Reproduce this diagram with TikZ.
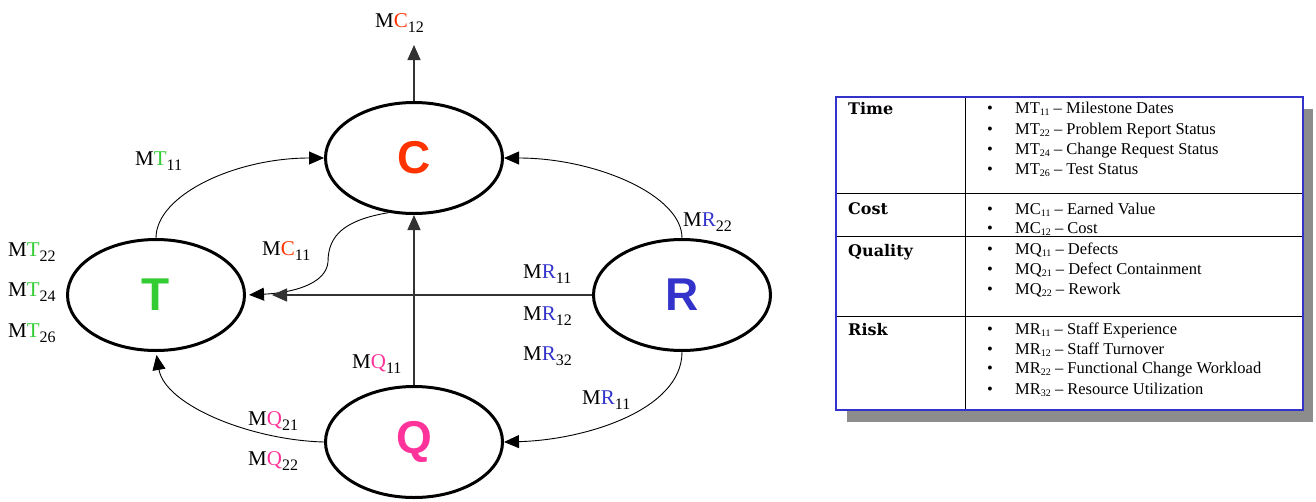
\documentclass[tikz,border=0pt]{standalone}
\usepackage{fontspec}
\setmainfont{Liberation Serif}
\newfontfamily\bigsans{Liberation Sans}
\newfontfamily\headfont{DejaVu Serif}
\usetikzlibrary{shapes.geometric,arrows.meta}
\definecolor{cC}{HTML}{FF3300}
\definecolor{cT}{HTML}{33CC33}
\definecolor{cR}{HTML}{3333CC}
\definecolor{cQ}{HTML}{FF3399}
\definecolor{tblue}{HTML}{3333CC}
\definecolor{shadowgray}{HTML}{8C8C8C}
\newcommand\mlab[3]{M\textcolor{#1}{#2}\raisebox{-5pt}{\fontsize{16}{16}\selectfont #3}}
\newcommand\tsub[1]{\raisebox{-2.5pt}{\fontsize{10}{10}\selectfont #1}}
\begin{document}
\begin{tikzpicture}[x=1pt,y=-1pt,
  bubble/.style={ellipse, draw, line width=3pt, minimum width=177pt, minimum height=111pt, inner sep=0pt, font=\bigsans\bfseries\fontsize{46}{46}\selectfont},
  lab/.style={anchor=base west, inner sep=0pt, font=\fontsize{21}{21}\selectfont},
  conn/.style={line width=0.9pt, -{Triangle[length=15pt,width=13pt]}},
  stem/.style={line width=1.4pt, draw=black!80, -{Triangle[length=15pt,width=13pt]}},
  head/.style={anchor=base west, inner sep=0pt, font=\headfont\bfseries\fontsize{16}{16}\selectfont},
  item/.style={anchor=base west, inner sep=0pt, font=\fontsize{16.5}{16.5}\selectfont},
  bul/.style={anchor=base, inner sep=0pt, font=\fontsize{16.5}{16.5}\selectfont}
]
\useasboundingbox (0,0) rectangle (1316,501);
% ellipses
\node[bubble,text=cC] (C) at (414,158) {C};
\node[bubble,text=cT] (T) at (156,295) {T};
\node[bubble,text=cR] (R) at (682,295) {R};
\node[bubble,text=cQ] (Q) at (414,442) {Q};
% connectors
\coordinate (top) at (414,45);
\draw[stem] (C.north) -- (top);
\draw[conn] (T.north) .. controls (156,195) and (235,158) .. (C.west);
\draw[conn] (R.north) .. controls (682,195) and (595,158) .. (C.east);
\draw[conn, shorten >=3pt] (C.-115) .. controls (345,220) and (328,235) .. (328,262) .. controls (326,285) and (290,293) .. (T.east);
\draw[stem] (Q.north) -- (C.south);
\draw[stem] (R.west) -- ([xshift=26pt]T.east);
\draw[conn, shorten >=3pt] (Q.west) .. controls (250,440) and (165,405) .. (T.south);
\draw[conn] (R.south) .. controls (682,410) and (585,440) .. (Q.east);
% labels
\node[lab] (lMC12) at (375,27) {\mlab{cC}{C}{12}};
\node[lab] (lMT11) at (135,165) {\mlab{cT}{T}{11}};
\node[lab] (lMT22) at (8,256) {\mlab{cT}{T}{22}};
\node[lab] (lMT24) at (8,296) {\mlab{cT}{T}{24}};
\node[lab] (lMT26) at (8,337) {\mlab{cT}{T}{26}};
\node[lab] (lMC11) at (262,255) {\mlab{cC}{C}{11}};
\node[lab] (lMQ11) at (352,368) {\mlab{cQ}{Q}{11}};
\node[lab] (lMQ21) at (248,425) {\mlab{cQ}{Q}{21}};
\node[lab] (lMQ22) at (248,465) {\mlab{cQ}{Q}{22}};
\node[lab] (lMR22) at (683,226) {\mlab{cR}{R}{22}};
\node[lab] (lMR11a) at (523,278) {\mlab{cR}{R}{11}};
\node[lab] (lMR12) at (523,320) {\mlab{cR}{R}{12}};
\node[lab] (lMR32) at (523,360) {\mlab{cR}{R}{32}};
\node[lab] (lMR11b) at (582,404) {\mlab{cR}{R}{11}};
% table
\fill[shadowgray] (847,109) rectangle (1313,422);
\fill[white] (836,97) rectangle (1303,410);
\draw[line width=0.9pt] (836,193) -- (1303,193);
\draw[line width=0.9pt] (836,236) -- (1303,236);
\draw[line width=0.9pt] (836,316) -- (1303,316);
\draw[line width=0.9pt] (965,97) -- (965,410);
\draw[tblue, line width=1.4pt] (836,97) rectangle (1303,410);
\node[head] (hTime) at (848,114) {Time};
\node[head] (hCost) at (848,214) {Cost};
\node[head] (hQual) at (848,256) {Quality};
\node[head] (hRisk) at (848,335) {Risk};
\foreach \y/\t [count=\i] in {
  113/{MT\tsub{11} – Milestone Dates},
  134/{MT\tsub{22} – Problem Report Status},
  154/{MT\tsub{24} – Change Request Status},
  174/{MT\tsub{26} – Test Status},
  214/{MC\tsub{11} – Earned Value},
  233/{MC\tsub{12} – Cost},
  254/{MQ\tsub{11} – Defects},
  274/{MQ\tsub{21} – Defect Containment},
  294/{MQ\tsub{22} – Rework},
  334/{MR\tsub{11} – Staff Experience},
  354/{MR\tsub{12} – Staff Turnover},
  373/{MR\tsub{22} – Functional Change Workload},
  394/{MR\tsub{32} – Resource Utilization}}
{
  \node[bul] (b\i) at (990,\y) {•};
  \node[item] (t\i) at (1015,\y) {\t};
}
\end{tikzpicture}
\end{document}
